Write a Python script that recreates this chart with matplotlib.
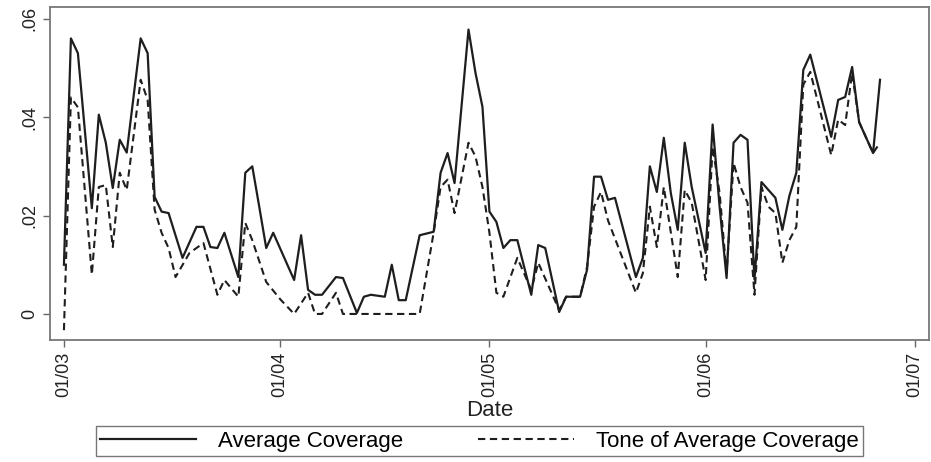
import pandas as pd
import matplotlib
matplotlib.use('Agg')
from matplotlib import pyplot as plt
import matplotlib.dates as mdates

plt.rcParams['font.family'] = ['Liberation Sans', 'DejaVu Sans']

# day offsets from 1 March
avg_days = [0, 1, 2, 4, 5, 6, 7, 8, 9, 11, 12, 13, 14, 15, 17, 19, 20, 21, 22, 23,
            25, 26, 27, 28, 29, 30, 33, 34, 35, 36, 37, 39, 40, 42, 43, 44, 46, 47, 48, 49,
            51, 53, 54, 55, 56, 58, 59, 60, 61, 62, 63, 64, 65, 67, 68, 69, 71, 72, 74, 75,
            76, 77, 78, 79, 82, 83, 84, 85, 86, 87, 88, 89, 90, 92, 93, 94, 95, 96, 97, 98,
            99, 100, 102, 103, 104, 105, 106, 107, 110, 111, 112, 113, 114, 116, 117]
avg_cov = [0.010, 0.056, 0.053, 0.0215, 0.0405, 0.0348, 0.0256, 0.0354, 0.0328, 0.056,
           0.053, 0.0238, 0.0208, 0.0205, 0.0114, 0.0177, 0.0177, 0.0136, 0.0134, 0.0165,
           0.0075, 0.0287, 0.030, 0.0218, 0.0134, 0.0165, 0.0069, 0.016, 0.0049, 0.0039,
           0.0039, 0.0075, 0.0073, 0.0002, 0.0035, 0.0039, 0.0035, 0.010, 0.0028, 0.0028,
           0.016, 0.0167, 0.0287, 0.0327, 0.0266, 0.0578, 0.049, 0.0421, 0.0208, 0.0187,
           0.0134, 0.015, 0.015, 0.0039, 0.014, 0.0134, 0.0004, 0.0035, 0.0035, 0.009,
           0.0279, 0.0279, 0.0232, 0.0236, 0.0075, 0.0114, 0.030, 0.0248, 0.0358, 0.0246,
           0.0171, 0.0348, 0.0258, 0.0124, 0.0385, 0.0218, 0.0073, 0.0348, 0.0364, 0.0354,
           0.007, 0.0268, 0.0236, 0.0171, 0.024, 0.0287, 0.0496, 0.0527, 0.036, 0.0435,
           0.0441, 0.0502, 0.039, 0.0327, 0.0476]

tone_days = [0, 1, 2, 4, 5, 6, 7, 8, 9, 11, 12, 13, 14, 15, 16, 18, 20, 22, 23, 25,
             26, 27, 29, 31, 33, 35, 36, 37, 39, 40, 51, 53, 54, 55, 56, 58, 59, 60, 61, 62,
             63, 65, 67, 68, 71, 72, 74, 75, 76, 77, 78, 82, 83, 84, 85, 86, 88, 89, 90, 92,
             93, 94, 95, 96, 97, 98, 99, 100, 101, 102, 103, 104, 105, 106, 107, 110, 111, 112,
             113, 114, 116, 117]
tone_cov = [-0.0033, 0.044, 0.042, 0.008, 0.0258, 0.0262, 0.0136, 0.0287, 0.0252, 0.0476,
            0.0435, 0.0212, 0.0165, 0.0134, 0.0075, 0.0124, 0.0144, 0.0039, 0.0069, 0.0035,
            0.0185, 0.015, 0.0065, 0.003, 0.0, 0.0043, 0.0, 0.0, 0.0043, 0.0,
            0.0, 0.0165, 0.0258, 0.0273, 0.0205, 0.0348, 0.032, 0.0258, 0.0165, 0.0043,
            0.0035, 0.0114, 0.0049, 0.0104, 0.0008, 0.0035, 0.0035, 0.0096, 0.0218, 0.0248,
            0.019, 0.0043, 0.0083, 0.0218, 0.0136, 0.0258, 0.0075, 0.0252, 0.0226, 0.0069,
            0.034, 0.0246, 0.0083, 0.0307, 0.0258, 0.0226, 0.0039, 0.0258, 0.0218, 0.0205,
            0.0104, 0.015, 0.0177, 0.0466, 0.0492, 0.0323, 0.0395, 0.0384, 0.049, 0.039,
            0.0327, 0.0348]

start = pd.Timestamp('2003-03-01')
avg_dates = start + pd.to_timedelta(avg_days, unit='D')
tone_dates = start + pd.to_timedelta(tone_days, unit='D')

fig = plt.figure(figsize=(9.31, 4.62), dpi=100)
ax = fig.add_axes([0.0537, 0.264, 0.944, 0.721])

ax.plot(avg_dates, avg_cov, color='#1e1e1e', lw=1.6, label='Average Coverage')
ax.plot(tone_dates, tone_cov, color='#1e1e1e', lw=1.5, dashes=(3.5, 2.2),
        label='Tone of Average Coverage')

ax.set_xlim(start - pd.Timedelta(days=2), start + pd.Timedelta(days=124))
ax.set_ylim(-0.0053, 0.0624)
ax.set_yticks([0, 0.02, 0.04, 0.06])
ax.set_yticklabels(['0', '.02', '.04', '.06'], rotation=90, va='center')
ax.xaxis.set_major_locator(mdates.MonthLocator())
ax.xaxis.set_major_formatter(mdates.DateFormatter('%d/%m'))
plt.setp(ax.get_xticklabels(), rotation=90)
ax.tick_params(labelsize=13, color='#666666', length=5, width=1, labelcolor='#222222')
ax.set_xlabel('Date', fontsize=16, color='#222222', labelpad=2)

for s in ax.spines.values():
    s.set_color('#777777')
    s.set_linewidth(1.3)

leg = fig.legend(loc='center', bbox_to_anchor=(0.515, 0.045), ncol=2, fontsize=16,
                 frameon=True, fancybox=False, edgecolor='#555555', handlelength=4.3,
                 handletextpad=1.0, columnspacing=3.4, borderpad=0.2)
leg.get_frame().set_linewidth(1.0)

plt.savefig('out.png', dpi=100)
